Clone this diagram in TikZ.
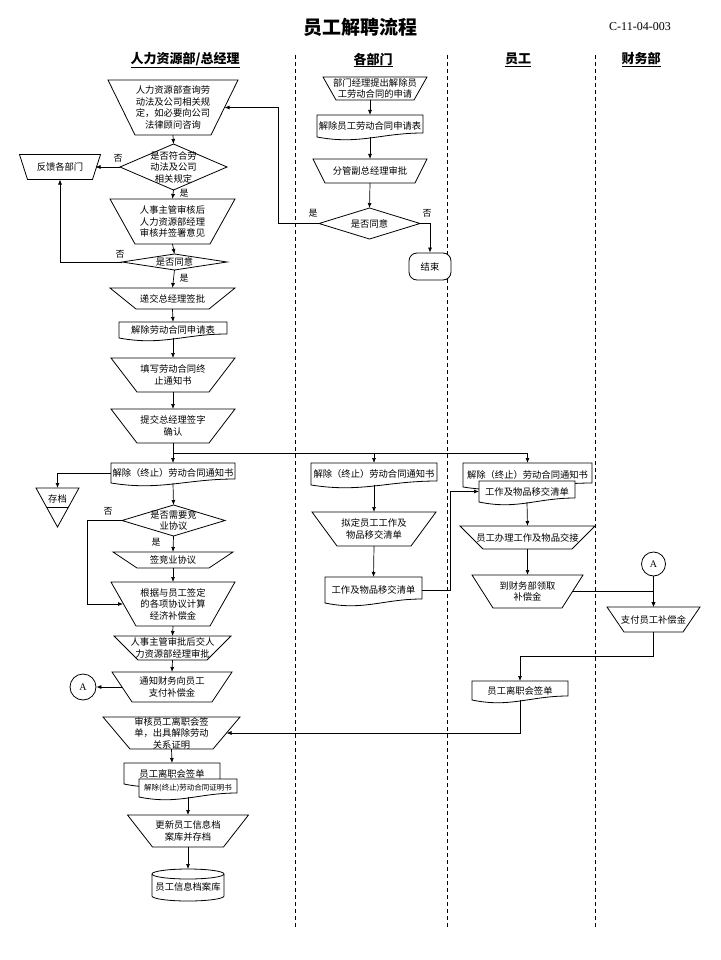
\documentclass[tikz,border=0pt]{standalone}
\usepackage{fontspec}
\usepackage{tikz}
\usetikzlibrary{arrows.meta,calc}
\setmainfont{Noto Sans CJK SC}
\newfontfamily\latinfont{Liberation Serif}

\tikzset{
	holder/.style={inner sep=0pt, outer sep=0pt},
	outline/.style={draw, line width=0.8pt, fill=white},
	txt/.style={inner sep=0pt, align=center, font=\fontsize{9.3}{11.5}\selectfont},
	lab/.style={inner sep=0pt, font=\fontsize{9}{9}\selectfont},
	head/.style={inner sep=0pt, font=\fontsize{13}{13}\selectfont\bfseries},
	link/.style={line width=0.7pt, -{Latex[length=5pt,width=4pt]}},
	lane/.style={line width=0.9pt, dash pattern=on 4pt off 3pt}
}

% name, position, width, height, inset, text
\newcommand{\manop}[6]{%
	\node[holder, minimum width=#3, minimum height=#4] (#1) at (#2) {};
	\filldraw[outline] (#1.north west) -- (#1.north east) -- ([xshift=-#5pt]#1.south east) -- ([xshift=#5pt]#1.south west) -- cycle;
	\node[txt] (#1-t) at (#1) {#6};}
% name, position, width, height, text
\newcommand{\docu}[5]{%
	\node[holder, minimum width=#3, minimum height=#4] (#1) at (#2) {};
	\filldraw[outline] (#1.south west) -- (#1.north west) -- (#1.north east) -- ([yshift=4pt]#1.south east) .. controls ([xshift={-0.4*#3}, yshift=4pt]#1.south east) and ([xshift={0.4*#3}, yshift=-8pt]#1.south west) .. (#1.south west) -- cycle;
	\node[txt] (#1-t) at (#1) {#5};}
\newcommand{\decide}[5]{%
	\node[holder, minimum width=#3, minimum height=#4] (#1) at (#2) {};
	\filldraw[outline] (#1.north) -- (#1.east) -- (#1.south) -- (#1.west) -- cycle;
	\node[txt] (#1-t) at (#1) {#5};}

\begin{document}
\begin{tikzpicture}[x=1pt, y=-1pt]
	\useasboundingbox (0,0) rectangle (720,960);
	
	\node[inner sep=0pt, font=\fontsize{19}{19}\selectfont\bfseries] (title) at (360,27) {员工解聘流程};
	\node[inner sep=0pt, font=\latinfont\fontsize{12}{12}\selectfont] (code) at (640,27) {C-11-04-003};
	
	\node[head] (hHR) at (185,60) {\underline{人力资源部/总经理}};
	\node[head] (hDep) at (373,60) {\underline{各部门}};
	\node[head] (hEmp) at (518,60) {\underline{员工}};
	\node[head] (hFin) at (641,60) {\underline{财务部}};
	
	\draw[lane] (295,55) -- (295,928);
	\draw[lane] (447,55) -- (447,928);
	\draw[lane] (595,55) -- (595,928);
	
	% 人力资源部/总经理
	\manop{hr1}{173,107.5}{130}{55}{27}{人力资源部查询劳\\动法及公司相关规\\定，如必要向公司\\法律顾问咨询}
	\decide{chk1}{173.5,167}{107}{46}{是否符合劳\\动法及公司\\相关规定}
	\manop{fb}{60,167}{81}{25}{8}{反馈各部门}
	\manop{hr2}{172.5,221.5}{125}{45}{25}{人事主管审核后\\人力资源部经理\\审核并签署意见}
	\decide{chk2}{174.5,262}{105}{16}{是否同意}
	\manop{hr3}{172.5,298.5}{125}{21}{26}{递交总经理签批}
	\docu{hrd1}{173,330}{108}{16}{解除劳动合同申请表}
	\manop{hr4}{173,375}{124}{34}{26}{填写劳动合同终\\止通知书}
	\manop{hr5}{173,426}{124}{34}{26}{提交总经理签字\\确认}
	\docu{hrd2}{173,473}{124}{20}{解除（终止）劳动合同通知书}
	
	\node[holder, minimum width=43, minimum height=39] (store) at (57.5,507.5) {};
	\filldraw[outline] (store.north west) -- (store.north east) -- (store.south) -- cycle;
	\draw[line width=0.8pt] ($(store.north west)!0.5!(store.south)$) -- ($(store.north east)!0.5!(store.south)$);
	\node[txt] (store-t) at (57.5,499) {存档};
	
	\decide{chk3}{173.5,520.5}{103}{31}{是否需要竞\\业协议}
	\manop{hr6}{173,560}{120}{16}{24}{签竞业协议}
	\manop{hr7}{173,604}{124}{44}{25}{根据与员工签定\\的各项协议计算\\经济补偿金}
	\manop{hr8}{172.5,648}{117}{24}{24}{人事主管审批后交人\\力资源部经理审批}
	\manop{hr9}{172,687}{120}{30}{20}{通知财务向员工\\支付补偿金}
	\node[outline, circle, minimum size=26, inner sep=0pt, font=\latinfont\fontsize{10}{10}\selectfont] (conA1) at (83,687) {A};
	\manop{hr10}{171.5,733}{137}{32}{27}{\fontsize{9.3}{10.5}\selectfont 审核员工离职会签\\单，出具解除劳动\\关系证明}
	\docu{hrd3}{172,773.5}{96}{21}{员工离职会签单}
	\docu{hrd4}{188,788}{98}{18}{\fontsize{7.5}{9}\selectfont 解除(终止)劳动合同证明书}
	\manop{hr11}{188,831}{121}{32}{25}{更新员工信息档\\案库并存档}
	
	\node[holder, minimum width=72, minimum height=32] (db) at (188,885) {};
	\filldraw[outline] ([yshift=-5pt]db.north west) -- ([yshift=5pt]db.south west) arc[start angle=180, end angle=360, x radius=36pt, y radius=5pt] -- ([yshift=-5pt]db.north east) arc[start angle=0, end angle=180, x radius=36pt, y radius=5pt] -- cycle;
	\draw[line width=0.8pt] ([yshift=-5pt]db.north west) arc[start angle=180, end angle=360, x radius=36pt, y radius=5pt];
	\node[txt] (db-t) at (188,887) {员工信息档案库};
	
	% 各部门
	\manop{dp1}{375,88.5}{104}{23}{13}{部门经理提出解除员\\工劳动合同的申请}
	\docu{dpd1}{370,126}{106}{22}{解除员工劳动合同申请表}
	\manop{dp2}{370,171}{114}{24}{12}{分管副总经理审批}
	\decide{chkD}{369.5,223.5}{101}{31}{是否同意}
	\node[outline, txt, rounded corners=8pt, minimum width=42, minimum height=27] (endN) at (430,266.5) {结束};
	\docu{dpd2}{374,474}{126}{22}{解除（终止）劳动合同通知书}
	\manop{dp3}{374,529}{124}{34}{25}{拟定员工工作及\\物品移交清单}
	\docu{dpd3}{373.5,590}{97}{26}{工作及物品移交清单}
	
	% 员工
	\docu{emd1}{527.5,475}{129}{24}{解除（终止）劳动合同通知书}
	\docu{emd2}{527,491.5}{96}{21}{工作及物品移交清单}
	\manop{em1}{527.5,537.5}{135}{23}{23}{员工办理工作及物品交接}
	\manop{em2}{527.5,591.5}{111}{33}{21}{到财务部领取\\补偿金}
	\docu{emd3}{520,690.5}{96}{19}{员工离职会签单}
	
	% 财务部
	\node[outline, circle, minimum size=24, inner sep=0pt, font=\latinfont\fontsize{10}{10}\selectfont] (conA2) at (653.5,564) {A};
	\manop{fi1}{653.5,619.5}{93}{25}{17}{支付员工补偿金}
	
	% connectors
	\draw[link] (hr1.south) -- (chk1.north);
	\draw[link] (chk1.west) -- ([xshift=-5pt]fb.east);
	\node[lab] (n1) at (118,158) {否};
	\draw[link] (chk1.south) -- (hr2.north);
	\node[lab] (y1) at (184,193) {是};
	\draw[link] (hr2.south) -- (chk2.north);
	\draw[link] (chk2.west) -| (fb.south);
	\node[lab] (n2) at (120,254) {否};
	\draw[link] (chk2.south) -- (hr3.north);
	\node[lab] (y2) at (184,278) {是};
	\draw[link] (hr3.south) -- (hrd1.north);
	\draw[link] (hrd1.south) -- (hr4.north);
	\draw[link] (hr4.south) -- (hr5.north);
	\draw[link] (hr5.south) -- (hrd2.north);
	\coordinate (fork) at (173,453);
	\draw[link] (fork) -| (dpd2.north);
	\draw[link] (fork) -| (emd1.north);
	\draw[link] (hrd2.west) -| (store.north);
	\draw[link] (hrd2.south) -- (chk3.north);
	\coordinate (bendL) at (87,520.5);
	\draw[link] (chk3.west) -- (bendL) |- ([xshift=12pt]hr7.west);
	\node[lab] (n3) at (108,511) {否};
	\draw[link] (chk3.south) -- (hr6.north);
	\node[lab] (y3) at (156,542) {是};
	\draw[link] (hr6.south) -- (hr7.north);
	\draw[link] (hr7.south) -- (hr8.north);
	\draw[link] (hr8.south) -- (hr9.north);
	\draw[link] ([xshift=10pt]hr9.west) -- (conA1.east);
	\draw[link] (hr10.south) -- (hrd3.north);
	\draw[link] (hrd4.south) -- (hr11.north);
	\draw[link] (hr11.south) -- (db.north);
	
	\draw[link] (dpd1.north |- dp1.south) -- (dpd1.north);
	\draw[link] (dpd1.south) -- (dp2.north);
	\draw[link] (dp2.south) -- (chkD.north);
	\coordinate (bendR) at (278,223.5);
	\draw[link] (chkD.west) -- (bendR) |- ([xshift=-13.5pt]hr1.east);
	\node[lab] (y4) at (313,213) {是};
	\draw[link] (chkD.east) -| (endN.north);
	\node[lab] (n4) at (427,213) {否};
	\draw[link] (dpd2.south) -- (dp3.north);
	\draw[link] (dp3.south) -- (dpd3.north);
	\coordinate (bendE) at (450,590);
	\draw[link] (dpd3.east) -- (bendE) |- (emd2.west);
	
	\draw[link] (emd2.south) -- (em1.north);
	\draw[link] (em1.south) -- (em2.north);
	\draw[link] ([xshift=-10.5pt]em2.east) -| (fi1.north);
	\draw[link] (conA2.south) -- (fi1.north);
	\draw[link] (fi1.south) -- ++(0,24) -| (emd3.north);
	\draw[link] (emd3.south) |- ([xshift=-13.5pt]hr10.east);
	
\end{tikzpicture}
\end{document}
